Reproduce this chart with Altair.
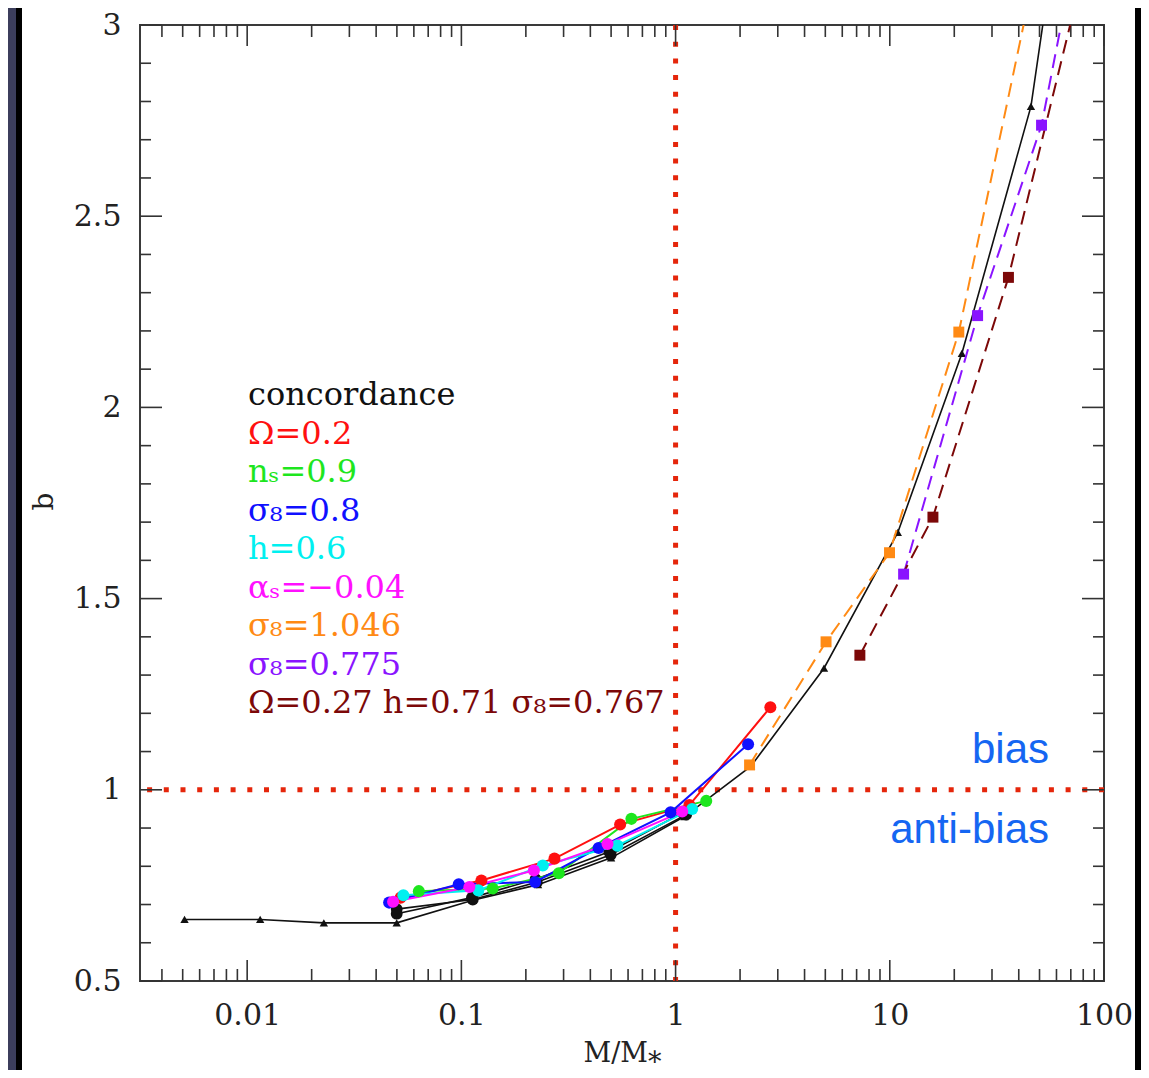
import altair as alt
import pandas as pd

# ---------------- data ----------------
conc_m = [0.0051, 0.0115, 0.0228, 0.0499, 0.113, 0.228, 0.50, 1.10, 2.25, 4.93, 10.9, 21.7, 45.6, 98.0]
conc_b = [0.661, 0.661, 0.652, 0.652, 0.711, 0.752, 0.822, 0.930, 1.062, 1.318, 1.673, 2.141, 2.787, 4.07]
blka_m = [0.0499, 0.113, 0.225, 0.498, 1.12]
blka_b = [0.688, 0.713, 0.758, 0.830, 0.935]
blkb_m = [0.0499, 0.112, 0.222, 0.49, 1.08]
blkb_b = [0.676, 0.718, 0.766, 0.838, 0.940]
red_m = [0.052, 0.124, 0.272, 0.551, 1.16, 2.77]
red_b = [0.718, 0.763, 0.820, 0.909, 0.960, 1.216]
green_m = [0.0633, 0.140, 0.285, 0.622, 1.39]
green_b = [0.735, 0.742, 0.782, 0.924, 0.971]
blue_m = [0.046, 0.0972, 0.221, 0.437, 0.948, 2.18]
blue_b = [0.705, 0.753, 0.759, 0.848, 0.941, 1.119]
cyan_m = [0.0536, 0.120, 0.240, 0.535, 1.195]
cyan_b = [0.724, 0.737, 0.802, 0.854, 0.950]
mag_m = [0.048, 0.109, 0.218, 0.481, 1.074]
mag_b = [0.707, 0.746, 0.789, 0.858, 0.943]
orange_m = [2.215, 5.04, 9.97, 21.0, 44.0]
orange_b = [1.065, 1.387, 1.620, 2.197, 3.05]
purple_m = [11.6, 25.7, 51.1, 102.0]
purple_b = [1.564, 2.240, 2.738, 3.60]
maroon_m = [7.25, 15.9, 35.8, 80.0]
maroon_b = [1.352, 1.713, 2.340, 3.14]

series_names = ["concordance", "black_a", "black_b", "Omega=0.2", "n_s=0.9", "sigma8=0.8",
                "h=0.6", "alpha_s=-0.04", "sigma8=1.046", "sigma8=0.775", "Omega=0.27"]
series_colors = ["#111111", "#111111", "#111111", "#ff1010", "#1ee61e", "#1010ff",
                 "#00f0f0", "#ff10ff", "#ff8a14", "#8a14ff", "#7c0808"]

legend_series = ["concordance", "Omega=0.2", "n_s=0.9", "sigma8=0.8", "h=0.6", "alpha_s=-0.04",
                 "sigma8=1.046", "sigma8=0.775", "Omega=0.27"]
legend_labels = ["concordance", "Ω=0.2", "nₛ=0.9", "σ₈=0.8", "h=0.6", "αₛ=−0.04",
                 "σ₈=1.046", "σ₈=0.775", "Ω=0.27  h=0.71  σ₈=0.767"]

annot_labels = ["bias", "anti-bias"]
ref_m = [1.0]
ref_b = [1.0]

x_major = [0.01, 0.1, 1, 10, 100]
x_minor = [k * 10.0 ** e for e in range(-3, 2) for k in range(2, 10) if 0.00316 <= k * 10.0 ** e <= 100]
y_major = [0.5, 1.0, 1.5, 2.0, 2.5, 3.0]
y_minor = [round(0.5 + 0.1 * i, 1) for i in range(1, 25) if i % 5 != 0]

W, H = 964, 956


def frame(name, m, b):
    return pd.DataFrame({"series": name, "m": m, "b": b})


d_conc = frame("concordance", conc_m, conc_b)
d_blk = pd.concat([frame("black_a", blka_m, blka_b), frame("black_b", blkb_m, blkb_b)])
d_col = pd.concat([
    frame("Omega=0.2", red_m, red_b),
    frame("n_s=0.9", green_m, green_b),
    frame("sigma8=0.8", blue_m, blue_b),
    frame("h=0.6", cyan_m, cyan_b),
    frame("alpha_s=-0.04", mag_m, mag_b),
])
d_dash = pd.concat([
    frame("sigma8=1.046", orange_m, orange_b),
    frame("sigma8=0.775", purple_m, purple_b),
    frame("Omega=0.27", maroon_m, maroon_b),
])

xs = alt.Scale(type="log", domain=[0.00316, 100], nice=False)
ys = alt.Scale(domain=[0.5, 3.0], nice=False, zero=False)
cs = alt.Scale(domain=series_names, range=series_colors)

x_axis = alt.Axis(values=x_major, format="~g", ticks=False, domain=False, grid=False,
                  labelFont="DejaVu Serif", labelFontSize=30, labelColor="#222",
                  labelPadding=19, labelFlush=False, labelOverlap=False,
                  title="M/M⁎", titleFont="DejaVu Serif", titleFontSize=27,
                  titleFontWeight="normal", titleColor="#222", titleY=80,
                  titleBaseline="alphabetic")
y_axis = alt.Axis(values=y_major, format="~g", ticks=False, domain=False, grid=False,
                  labelFont="DejaVu Serif", labelFontSize=30, labelColor="#222",
                  labelPadding=19, labelFlush=False, labelOverlap=False,
                  title="b", titleFont="DejaVu Serif", titleFontSize=28,
                  titleFontWeight="normal", titleColor="#222", titleAngle=270,
                  titleX=-96, titleY=476, titleAlign="center", titleBaseline="middle")


def XF(field):
    return alt.X(field, scale=xs, axis=x_axis)


def YF(field):
    return alt.Y(field, scale=ys, axis=y_axis)


X = XF("m:Q")
Y = YF("b:Q")
C = alt.Color("series:N", scale=cs, legend=None)

# dotted reference lines at M/M* = 1 and b = 1
dot_v = alt.Chart(pd.DataFrame({"m": ref_m})).mark_rule(
    color="#e5260b", strokeWidth=5, strokeDash=[5, 11.7], strokeCap="butt").encode(x=X)
dot_h = alt.Chart(pd.DataFrame({"b": ref_b})).mark_rule(
    color="#e5260b", strokeWidth=5, strokeDash=[5, 11.7], strokeCap="butt").encode(y=Y)

# inward ticks on all four sides
tick_style = dict(color="#333333", strokeWidth=1.6)


def xticks(vals, length):
    dfv = pd.DataFrame({"v": vals})
    bx = XF("v:Q")
    bot = alt.Chart(dfv).mark_rule(**tick_style).encode(x=bx, y=alt.value(H), y2=alt.value(H - length))
    top = alt.Chart(dfv).mark_rule(**tick_style).encode(x=bx, y=alt.value(0), y2=alt.value(length))
    return [bot, top]


def yticks(vals, length):
    dfv = pd.DataFrame({"v": vals})
    by = YF("v:Q")
    lft = alt.Chart(dfv).mark_rule(**tick_style).encode(y=by, x=alt.value(0), x2=alt.value(length))
    rgt = alt.Chart(dfv).mark_rule(**tick_style).encode(y=by, x=alt.value(W), x2=alt.value(W - length))
    return [lft, rgt]


ticks = xticks(x_minor, 12) + xticks(x_major, 21) + yticks(y_minor, 11) + yticks(y_major, 22)

# data layers
conc_line = alt.Chart(d_conc).mark_line(strokeWidth=1.6, clip=True).encode(x=X, y=Y, color=C)
blk_line = alt.Chart(d_blk).mark_line(strokeWidth=1.6, clip=True).encode(x=X, y=Y, color=C)
conc_pts = alt.Chart(d_conc).mark_point(shape="triangle-up", filled=True, size=70, opacity=1, clip=True).encode(
    x=X, y=Y, color=C)
blk_pts = alt.Chart(d_blk).mark_circle(size=140, opacity=1, clip=True).encode(x=X, y=Y, color=C)
col_line = alt.Chart(d_col).mark_line(strokeWidth=2, clip=True).encode(x=X, y=Y, color=C)
col_pts = alt.Chart(d_col).mark_circle(size=145, opacity=1, clip=True).encode(x=X, y=Y, color=C)
dash_line = alt.Chart(d_dash).mark_line(strokeWidth=2, strokeDash=[14, 8], clip=True).encode(x=X, y=Y, color=C)
dash_pts = alt.Chart(d_dash).mark_square(size=120, opacity=1, clip=True).encode(x=X, y=Y, color=C)

# legend text: rows stacked downward from the top of the panel (pixel row -> b units)
leg_df = pd.DataFrame({"label": legend_labels, "series": legend_series, "row": list(range(len(legend_labels)))})
legend = alt.Chart(leg_df).transform_calculate(
    yb=f"3 - (370 + 38.5 * datum.row) * 2.5 / {H}").mark_text(
    align="left", baseline="middle", font="DejaVu Serif", fontSize=32).encode(
    x=alt.value(108),
    y=YF("yb:Q"),
    text="label:N",
    color=C,
)

ann_df = pd.DataFrame({"label": annot_labels, "row": [0, 1]})
annot = alt.Chart(ann_df).transform_calculate(
    yb=f"3 - (725 + 80 * datum.row) * 2.5 / {H}").mark_text(
    align="right", baseline="middle", font="Liberation Sans", fontSize=42, color="#1566f2").encode(
    x=alt.value(909),
    y=YF("yb:Q"),
    text="label:N",
)

# dark slide border around the white panel (thick rules at fixed pixel offsets)
deco = [
    alt.Chart().mark_rule(color="#3c3e5c", strokeWidth=9).encode(
        x=alt.value(-128), y=alt.value(-20), y2=alt.value(H + 100)),
    alt.Chart().mark_rule(color="#000000", strokeWidth=6).encode(
        x=alt.value(-121), y=alt.value(-20), y2=alt.value(H + 100)),
    alt.Chart().mark_rule(color="#000000", strokeWidth=14).encode(
        x=alt.value(W + 38), y=alt.value(-20), y2=alt.value(H + 100)),
]

chart = alt.layer(dot_v, dot_h, *ticks, conc_line, blk_line, conc_pts, blk_pts,
                  col_line, col_pts, dash_line, dash_pts, legend, annot, *deco).properties(
    width=W, height=H,
    padding={"left": 132, "top": 17, "right": 37, "bottom": 89},
    autosize=alt.AutoSizeParams(type="none"),
    background="white",
).configure_view(stroke="#3a3a3a", strokeWidth=2)

chart.save("out.html", embed_options={"renderer": "svg", "actions": False})
